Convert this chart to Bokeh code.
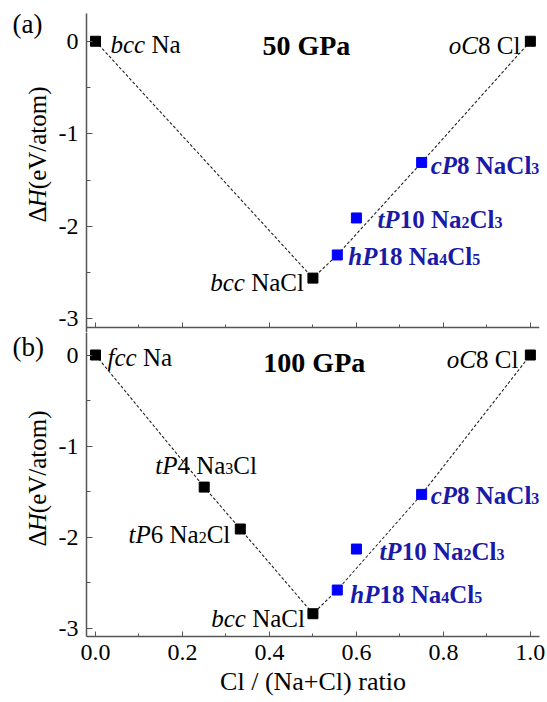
import math
from bokeh.plotting import figure
from bokeh.models import Range1d, FixedTicker, LinearAxis, Label
from bokeh.layouts import column, row
from bokeh.core.properties import value
from bokeh.embed import file_html
from bokeh.resources import INLINE

# ---------------- data ----------------
# (a) 50 GPa
a_black_x = [0.0, 0.5, 1.0]
a_black_dH = [0.0, -2.56, 0.0]
a_black_labels = ["bcc Na", "bcc NaCl", "oC8 Cl"]
a_blue_x = [0.556, 0.6, 0.75]
a_blue_dH = [-2.31, -1.91, -1.31]
a_blue_labels = ["hP18 Na4Cl5", "tP10 Na2Cl3", "cP8 NaCl3"]
a_hull_x = [0.0, 0.5, 0.556, 0.75, 1.0]
a_hull_dH = [0.0, -2.56, -2.31, -1.31, 0.0]

# (b) 100 GPa
b_black_x = [0.0, 0.25, 0.333, 0.5, 1.0]
b_black_dH = [0.0, -1.45, -1.91, -2.84, 0.0]
b_black_labels = ["fcc Na", "tP4 Na3Cl", "tP6 Na2Cl", "bcc NaCl", "oC8 Cl"]
b_blue_x = [0.556, 0.6, 0.75]
b_blue_dH = [-2.58, -2.13, -1.53]
b_blue_labels = ["hP18 Na4Cl5", "tP10 Na2Cl3", "cP8 NaCl3"]
b_hull_x = [0.0, 0.25, 0.333, 0.5, 0.556, 0.75, 1.0]
b_hull_dH = [0.0, -1.45, -1.91, -2.84, -2.58, -1.53, 0.0]

x_ticks = [0.0, 0.2, 0.4, 0.6, 0.8, 1.0]
x_minor = [0.1, 0.3, 0.5, 0.7, 0.9]
x_tick_labels = ["0.0", "0.2", "0.4", "0.6", "0.8", "1.0"]
y_ticks = [-3, -2, -1, 0]
y_minor = [-2.5, -1.5, -0.5]
y_tick_labels = ["-3", "-2", "-1", "0"]
panel_titles = ["50 GPa", "100 GPa"]
panel_tags = ["(a)", "(b)"]
x_title = "Cl / (Na+Cl) ratio"
y_title_parts = ["Δ", "H", "(eV/atom)"]

# ---------------- layout / style ----------------
FONT = "Liberation Serif"
FS = 25
SUB = 0.64
BLUE_MARK = "#0000ff"
BLUE_TEXT = "#1a1aa8"
AXIS_COL = "#555555"
GUT = 55            # left gutter width (px)
TOTAL_H = 702
H1 = 332            # height of upper panel figure
BASE_FIX = 8        # baseline correction (px, upward)

# label placement (px): (dx, dy-down, align)
a_black_pos = [(15, 11, "left"), (-9, 12, "right"), (-10, 12, "right")]
a_blue_pos = [(11, 10, "left"), (21, 10, "left"), (9, 11, "left")]
b_black_pos = [(12, 10, "left"), (-49, -14, "left"), (-10, 13, "right"), (-8, 13, "right"), (-12, 12, "right")]
b_blue_pos = [(13, 12, "left"), (23, 10, "left"), (9, 9, "left")]

W = {
    'r': {' ': 250, 'a': 444, 'b': 500, 'c': 444, 'e': 444, 'f': 333, 'l': 278, 'o': 500, 't': 278,
          'r': 333, 'i': 278, 'm': 778, 'N': 722, 'C': 667, 'P': 556, 'H': 722, 'G': 722, 'V': 722,
          '(': 333, ')': 333, '/': 278, '+': 564, '.': 250, '-': 333, 'Δ': 612},
    'i': {'b': 500, 'c': 444, 'f': 278, 't': 278, 'o': 500, 'h': 500, 'C': 667, 'P': 611, 'H': 722},
    'b': {' ': 250, 'a': 500, 'N': 722, 'C': 722, 'l': 278, 'G': 778, 'P': 611},
    'bi': {'c': 444, 't': 278, 'h': 556, 'P': 611},
}
STYLE = {'r': "normal", 'i': "italic", 'b': "bold", 'bi': "bold italic"}


def text_w(s, st, size):
    return sum(W[st].get(c, 500) for c in s) / 1000.0 * size


def runs(s):
    out = []
    for c in s:
        if out and out[-1][0].isdigit() == c.isdigit():
            out[-1] += c
        else:
            out.append(c)
    return out


def put_label(p, x, y, text, color, bold, dx, dy, align):
    struct, formula = text.split(" ")
    st_i = 'bi' if bold else 'i'
    st_r = 'b' if bold else 'r'
    segs = []
    for r in runs(struct):
        segs.append((r, st_r if r[0].isdigit() else st_i, False))
    segs.append((None, None, False))
    for r in runs(formula):
        segs.append((r, st_r, r[0].isdigit()))
    widths = []
    for t, st, sub in segs:
        if t is None:
            widths.append(0.25 * FS)
        else:
            widths.append(text_w(t, st, FS * SUB if sub else FS))
    total = sum(widths)
    start = dx if align == "left" else dx - total
    cum = start
    for (t, st, sub), w in zip(segs, widths):
        if t is not None:
            size = FS * SUB if sub else FS
            p.add_layout(Label(x=x, y=y, x_offset=cum,
                               y_offset=BASE_FIX - (dy + (3 if sub else 0)),
                               text=t, text_font=FONT, text_font_style=STYLE[st],
                               text_font_size=f"{size:.1f}px", text_color=color,
                               text_align="left", text_baseline="alphabetic"))
        cum += w


xr = Range1d(-0.0207, 1.021)


def style_axis_line(ax):
    ax.axis_line_color = AXIS_COL
    ax.axis_line_width = 1.5
    ax.major_tick_line_color = AXIS_COL
    ax.minor_tick_line_color = AXIS_COL
    ax.major_tick_out = 0
    ax.minor_tick_out = 0


def make_panel(height, yr, border_top, border_bottom, show_x_labels):
    p = figure(width=547 - GUT, height=height, x_range=xr, y_range=yr, title=None,
               output_backend="svg", toolbar_location=None,
               x_axis_location=None, y_axis_location=None,
               min_border_left=86 - GUT, min_border_right=8,
               min_border_top=border_top, min_border_bottom=border_bottom)
    p.outline_line_color = None
    p.grid.visible = False
    p.background_fill_color = "white"
    p.border_fill_color = "white"

    ya = LinearAxis(ticker=FixedTicker(ticks=y_ticks, minor_ticks=y_minor),
                    major_label_overrides={t: l for t, l in zip(y_ticks, y_tick_labels)})
    style_axis_line(ya)
    ya.major_tick_in = 6
    ya.minor_tick_in = 4
    ya.major_label_standoff = 8
    ya.major_label_text_font = FONT
    ya.major_label_text_font_size = "24px"
    ya.major_label_text_color = "black"
    p.add_layout(ya, "left")

    if show_x_labels:
        xa = LinearAxis(ticker=FixedTicker(ticks=x_ticks, minor_ticks=x_minor),
                        major_label_overrides={t: l for t, l in zip(x_ticks, x_tick_labels)})
        xa.major_label_standoff = 8
        xa.major_label_text_font = FONT
        xa.major_label_text_font_size = "24px"
        xa.major_label_text_color = "black"
        xa.axis_label = x_title
        xa.axis_label_standoff = 4
        xa.axis_label_text_font = FONT
        xa.axis_label_text_font_size = "26px"
        xa.axis_label_text_font_style = "normal"
        xa.axis_label_text_color = "black"
    else:
        # upper panel: x axis line drawn inside the frame at the bottom of its dH range
        xa = LinearAxis(ticker=FixedTicker(ticks=x_ticks, minor_ticks=x_minor),
                        major_label_overrides={t: "" for t in x_ticks},
                        fixed_location=-3.09)
        xa.major_label_standoff = 0
        xa.major_label_text_font_size = "1px"
    style_axis_line(xa)
    xa.major_tick_in = 5
    xa.minor_tick_in = 3
    p.add_layout(xa, "below")
    return p


def draw(p, hx, hy, kx, ky, kl, kpos, nx, ny, nl, npos, title, tx, ty):
    p.line(hx, hy, line_color="#222222", line_width=1.1, line_dash="3 2")
    p.scatter(kx, ky, marker="square", size=10, fill_color="black", line_color="black")
    p.scatter(nx, ny, marker="square", size=10, fill_color=BLUE_MARK, line_color=BLUE_MARK)
    for x, y, t, (dx, dy, al) in zip(kx, ky, kl, kpos):
        put_label(p, x, y, t, "black", False, dx, dy, al)
    for x, y, t, (dx, dy, al) in zip(nx, ny, nl, npos):
        put_label(p, x, y, t, BLUE_TEXT, True, dx, dy, al)
    p.add_layout(Label(x=tx, y=ty, y_offset=BASE_FIX, text=title, text_font=FONT,
                       text_font_style="bold", text_font_size="28px", text_color="black",
                       text_align="left", text_baseline="alphabetic"))


p1 = make_panel(H1, Range1d(-3.148, 0.30), 13, 0, False)
draw(p1, a_hull_x, a_hull_dH, a_black_x, a_black_dH, a_black_labels, a_black_pos,
     a_blue_x, a_blue_dH, a_blue_labels, a_blue_pos, panel_titles[0], 0.384, -0.131)

p2 = make_panel(TOTAL_H - H1, Range1d(-3.09, 0.247), 0, 66, True)
draw(p2, b_hull_x, b_hull_dH, b_black_x, b_black_dH, b_black_labels, b_black_pos,
     b_blue_x, b_blue_dH, b_blue_labels, b_blue_pos, panel_titles[1], 0.386, -0.166)

# ---- left gutter: panel tags and y-axis titles (page pixel coordinates, y up) ----
g = figure(width=GUT, height=TOTAL_H, x_range=Range1d(0, GUT), y_range=Range1d(0, TOTAL_H),
           title=None, output_backend="svg", toolbar_location=None,
           x_axis_location=None, y_axis_location=None,
           min_border_left=0, min_border_right=0, min_border_top=0, min_border_bottom=0)
g.outline_line_color = None
g.grid.visible = False
g.border_fill_color = "white"
g.background_fill_color = "white"

tag_baselines = [31, 354]
ytitle_centers = [162, 486]
for tag, yb in zip(panel_tags, tag_baselines):
    g.text(x=[12], y=[TOTAL_H - yb + BASE_FIX], text=[tag], text_font=value(FONT),
           text_font_size="27px", text_color="black", text_align="left",
           text_baseline="alphabetic")

yt_styles = ['r', 'i', 'r']
yt_w = [text_w(t, s, FS) for t, s in zip(y_title_parts, yt_styles)]
for yc in ytitle_centers:
    start = TOTAL_H - yc - sum(yt_w) / 2 + BASE_FIX
    cum = 0
    for t, s, w in zip(y_title_parts, yt_styles, yt_w):
        g.text(x=[37], y=[start + cum], text=[t], angle=math.pi / 2, text_font=value(FONT),
               text_font_style=STYLE[s], text_font_size=f"{FS}px", text_color="black",
               text_align="left", text_baseline="middle")
        cum += w

layout = row(g, column(p1, p2, spacing=0), spacing=0)
open("out.html", "w").write(file_html(layout, INLINE))
